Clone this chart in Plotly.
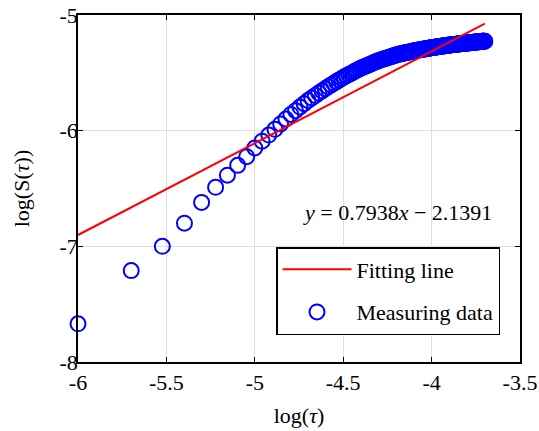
import plotly.graph_objects as go

# log(tau) values of the measured points
log_tau = [
    -6.0000, -5.6990, -5.5229, -5.3979, -5.3010, -5.2218, -5.1549, -5.0969, -5.0458, -5.0000,
    -4.9586, -4.9208, -4.8861, -4.8539, -4.8239, -4.7959, -4.7696, -4.7447, -4.7212, -4.6990,
    -4.6778, -4.6576, -4.6383, -4.6198, -4.6021, -4.5850, -4.5686, -4.5528, -4.5376, -4.5229,
    -4.5086, -4.4949, -4.4815, -4.4685, -4.4559, -4.4437, -4.4318, -4.4202, -4.4089, -4.3979,
    -4.3872, -4.3768, -4.3665, -4.3565, -4.3468, -4.3372, -4.3279, -4.3188, -4.3098, -4.3010,
    -4.2924, -4.2840, -4.2757, -4.2676, -4.2596, -4.2518, -4.2441, -4.2366, -4.2291, -4.2218,
    -4.2147, -4.2076, -4.2007, -4.1938, -4.1871, -4.1805, -4.1739, -4.1675, -4.1612, -4.1549,
    -4.1487, -4.1427, -4.1367, -4.1308, -4.1249, -4.1192, -4.1135, -4.1079, -4.1024, -4.0969,
    -4.0915, -4.0862, -4.0809, -4.0757, -4.0706, -4.0655, -4.0605, -4.0555, -4.0506, -4.0458,
    -4.0410, -4.0362, -4.0315, -4.0269, -4.0223, -4.0177, -4.0132, -4.0088, -4.0044, -4.0000,
    -3.9957, -3.9914, -3.9872, -3.9830, -3.9788, -3.9747, -3.9706, -3.9666, -3.9626, -3.9586,
    -3.9547, -3.9508, -3.9469, -3.9431, -3.9393, -3.9355, -3.9318, -3.9281, -3.9245, -3.9208,
    -3.9172, -3.9136, -3.9101, -3.9066, -3.9031, -3.8996, -3.8962, -3.8928, -3.8894, -3.8861,
    -3.8827, -3.8794, -3.8761, -3.8729, -3.8697, -3.8665, -3.8633, -3.8601, -3.8570, -3.8539,
    -3.8508, -3.8477, -3.8447, -3.8416, -3.8386, -3.8356, -3.8327, -3.8297, -3.8268, -3.8239,
    -3.8210, -3.8182, -3.8153, -3.8125, -3.8097, -3.8069, -3.8041, -3.8013, -3.7986, -3.7959,
    -3.7932, -3.7905, -3.7878, -3.7852, -3.7825, -3.7799, -3.7773, -3.7747, -3.7721, -3.7696,
    -3.7670, -3.7645, -3.7620, -3.7595, -3.7570, -3.7545, -3.7520, -3.7496, -3.7471, -3.7447,
    -3.7423, -3.7399, -3.7375, -3.7352, -3.7328, -3.7305, -3.7282, -3.7258, -3.7235, -3.7212,
    -3.7190, -3.7167, -3.7144, -3.7122, -3.7100, -3.7077, -3.7055, -3.7033, -3.7011, -3.6990,
]

# log(S(tau)) values
log_S = [
    -7.670, -7.210, -7.000, -6.800, -6.620, -6.490, -6.385, -6.300, -6.225, -6.150,
    -6.091, -6.038, -5.988, -5.942, -5.899, -5.860, -5.827, -5.796, -5.767, -5.739,
    -5.717, -5.696, -5.675, -5.656, -5.637, -5.621, -5.605, -5.590, -5.576, -5.562,
    -5.548, -5.536, -5.525, -5.515, -5.505, -5.495, -5.485, -5.476, -5.467, -5.459,
    -5.452, -5.445, -5.438, -5.432, -5.425, -5.419, -5.413, -5.407, -5.401, -5.396,
    -5.391, -5.387, -5.383, -5.379, -5.375, -5.371, -5.367, -5.363, -5.360, -5.356,
    -5.352, -5.349, -5.345, -5.343, -5.340, -5.338, -5.336, -5.334, -5.331, -5.329,
    -5.327, -5.325, -5.323, -5.321, -5.319, -5.317, -5.315, -5.313, -5.311, -5.309,
    -5.308, -5.306, -5.305, -5.303, -5.302, -5.301, -5.299, -5.298, -5.297, -5.295,
    -5.294, -5.293, -5.292, -5.290, -5.289, -5.288, -5.287, -5.285, -5.284, -5.283,
    -5.282, -5.281, -5.280, -5.279, -5.278, -5.277, -5.276, -5.275, -5.274, -5.273,
    -5.273, -5.272, -5.271, -5.270, -5.269, -5.268, -5.267, -5.266, -5.266, -5.265,
    -5.264, -5.263, -5.262, -5.262, -5.261, -5.260, -5.259, -5.259, -5.258, -5.257,
    -5.257, -5.256, -5.256, -5.255, -5.255, -5.254, -5.253, -5.253, -5.252, -5.252,
    -5.251, -5.251, -5.250, -5.249, -5.249, -5.248, -5.248, -5.247, -5.247, -5.246,
    -5.246, -5.245, -5.245, -5.244, -5.244, -5.243, -5.243, -5.242, -5.242, -5.241,
    -5.241, -5.240, -5.240, -5.240, -5.239, -5.239, -5.238, -5.238, -5.238, -5.237,
    -5.237, -5.236, -5.236, -5.236, -5.235, -5.235, -5.234, -5.234, -5.234, -5.233,
    -5.233, -5.232, -5.232, -5.232, -5.231, -5.231, -5.231, -5.230, -5.230, -5.229,
    -5.229, -5.229, -5.228, -5.228, -5.228, -5.227, -5.227, -5.227, -5.226, -5.226,
]

# fitted line y = 0.7938 x - 2.1391 over the data range
fit_slope = 0.7938
fit_intercept = -2.1391
fit_x = [log_tau[0], log_tau[-1]]
fit_y = [fit_slope * v + fit_intercept for v in fit_x]

x_tick_vals = [-6, -5.5, -5, -4.5, -4, -3.5]
x_tick_text = ["-6", "-5.5", "-5", "-4.5", "-4", "-3.5"]
y_tick_vals = [-8, -7, -6, -5]
y_tick_text = ["-8", "-7", "-6", "-5"]

FONT = "Liberation Serif, Times New Roman, serif"
FS = 22

fig = go.Figure()
fig.add_trace(go.Scatter(
    x=log_tau, y=log_S, mode="markers", name="Measuring data",
    marker=dict(symbol="circle-open", size=15, color="#0000FF", line=dict(width=2, color="#0000FF")),
    cliponaxis=False, legendrank=2, legendgroup="data",
))
fig.add_trace(go.Scatter(
    x=fit_x, y=fit_y, mode="lines", name="Fitting line",
    line=dict(color="#FF0000", width=2), legendrank=1, legendgroup="fit",
))

fig.add_annotation(
    x=0.7228, y=0.431, xref="paper", yref="paper",
    text="<i>y</i> = 0.7938<i>x</i> − 2.1391", showarrow=False,
    font=dict(family=FONT, size=FS, color="black"), xanchor="center", yanchor="middle",
)

axis_common = dict(
    showline=True, linecolor="black", linewidth=1.5, mirror="ticks",
    ticks="inside", ticklen=5, tickwidth=1, tickcolor="black",
    showgrid=True, gridcolor="#dedede", gridwidth=1, zeroline=False,
    tickfont=dict(family=FONT, size=FS, color="black"), automargin=False,
)

fig.update_layout(
    width=539, height=431,
    margin=dict(l=78, r=19, t=15, b=69, autoexpand=False),
    paper_bgcolor="white", plot_bgcolor="white",
    font=dict(family=FONT, size=FS, color="black"),
    showlegend=True,
    legend=dict(
        x=0.448, y=0.3314, xanchor="left", yanchor="top",
        bgcolor="white", bordercolor="black", borderwidth=1.5,
        font=dict(family=FONT, size=FS, color="black"),
        tracegroupgap=11, itemwidth=69, entrywidth=147,
    ),
    xaxis=dict(axis_common, range=[-6, -3.5], tickvals=x_tick_vals, ticktext=x_tick_text,
               title=dict(text="log(<i>τ</i>)", font=dict(family=FONT, size=FS), standoff=13)),
    yaxis=dict(axis_common, range=[-8, -5], tickvals=y_tick_vals, ticktext=y_tick_text,
               ticklabelstandoff=-6,
               title=dict(text="log(S(<i>τ</i>))", font=dict(family=FONT, size=FS), standoff=24)),
)

fig.write_html("out.html", config={"displayModeBar": False},
               post_script="document.body.style.margin='0px';")
